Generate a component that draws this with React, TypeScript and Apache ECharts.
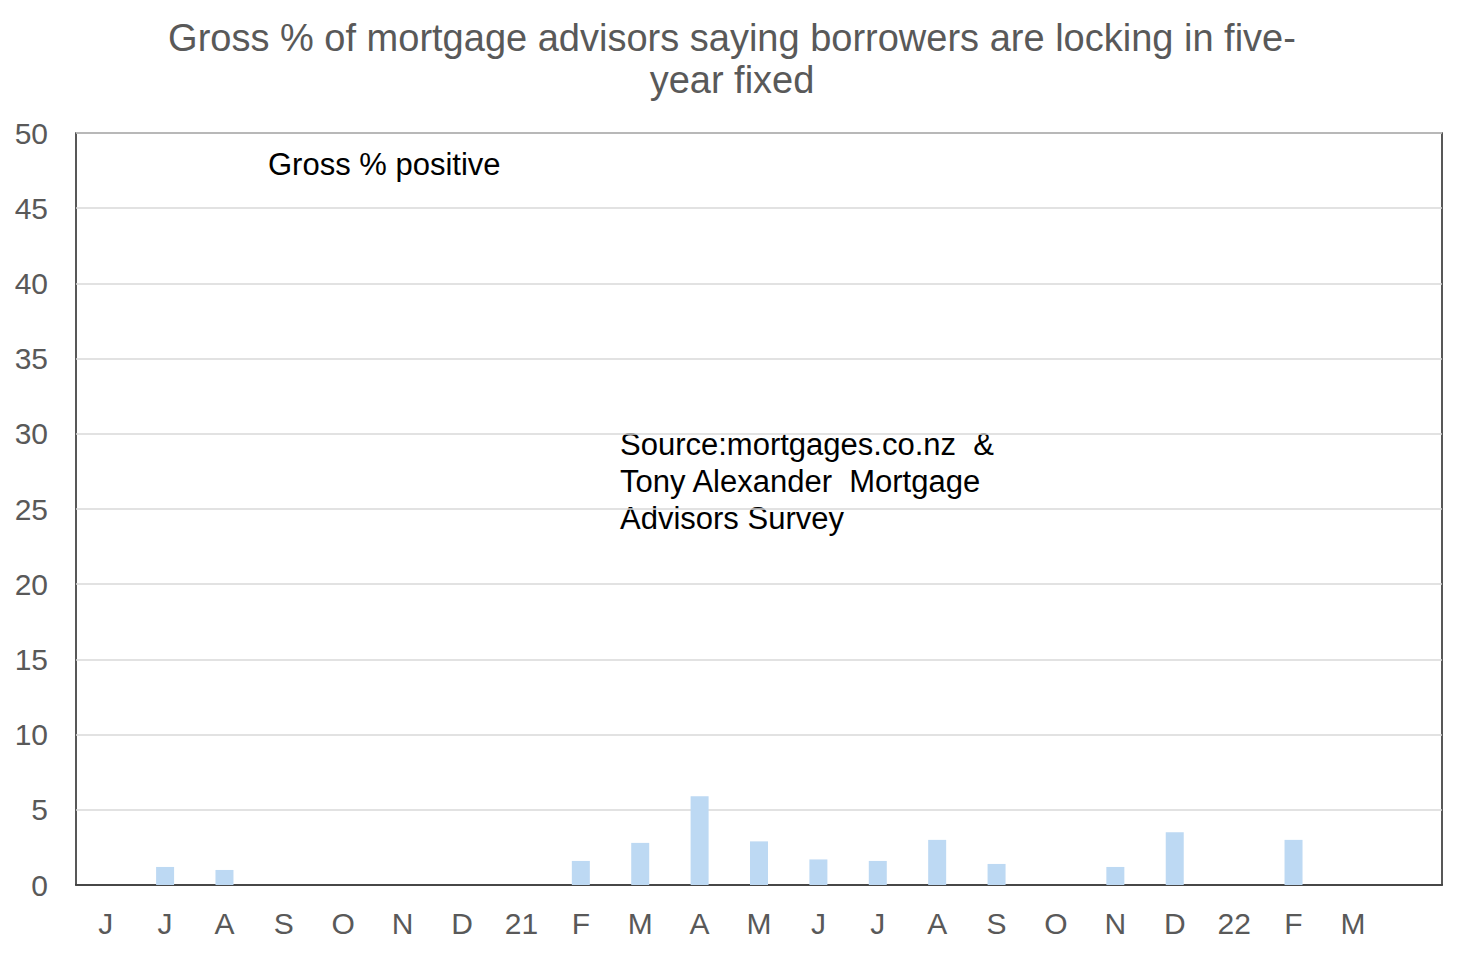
import React, { useEffect, useRef } from "react";
import * as echarts from "echarts";

const categories = ["J", "J", "A", "S", "O", "N", "D", "21", "F", "M", "A", "M", "J", "J", "A", "S", "O", "N", "D", "22", "F", "M", ""];
const grossPositive = [0, 1.2, 1.0, 0, 0, 0, 0, 0, 1.6, 2.8, 5.9, 2.9, 1.7, 1.6, 3.0, 1.4, 0, 1.2, 3.5, 0, 3.0, 0, 0];
const titleText = "Gross % of mortgage advisors saying borrowers are locking in five-\nyear fixed";
const seriesLabel = "Gross % positive";
const sourceLines = ["Source:mortgages.co.nz  &", "Tony Alexander  Mortgage", "Advisors Survey"];

const FONT = "'Liberation Sans', Arial, sans-serif";

export default function App() {
  const ref = useRef<HTMLDivElement>(null);
  useEffect(() => {
    if (!ref.current) return;
    const chart = echarts.init(ref.current, undefined, { renderer: "svg" });
    chart.setOption({
      animation: false,
      backgroundColor: "#ffffff",
      textStyle: { fontFamily: FONT },
      title: {
        text: titleText,
        left: "center",
        top: 12,
        textStyle: { fontFamily: FONT, fontSize: 38, fontWeight: "normal", color: "#595959", lineHeight: 42 },
      },
      grid: { left: 76, right: 22, top: 133, bottom: 69, show: true, borderColor: "#222", borderWidth: 1.5, backgroundColor: "transparent" },
      xAxis: {
        type: "category",
        data: categories,
        axisLine: { show: true, lineStyle: { color: "#222", width: 1.5 } },
        axisTick: { show: false },
        axisLabel: { color: "#595959", fontSize: 30, fontFamily: FONT, margin: 23, interval: 0 },
      },
      yAxis: {
        type: "value",
        min: 0,
        max: 50,
        interval: 5,
        axisLine: { show: false },
        axisTick: { show: false },
        axisLabel: { color: "#595959", fontSize: 30, fontFamily: FONT, margin: 28 },
        splitLine: { lineStyle: { color: "#d9d9d9", width: 1.5 } },
      },
      series: [
        {
          name: seriesLabel,
          type: "bar",
          data: grossPositive,
          barWidth: 18,
          itemStyle: { color: "#bdd9f3" },
        },
      ],
      graphic: [
        {
          type: "text",
          left: 268,
          top: 149,
          style: { text: seriesLabel, font: `31px ${FONT}`, fill: "#000" },
        },
        {
          type: "text",
          left: 620,
          top: 426,
          style: { text: sourceLines.join("\n"), font: `31px ${FONT}`, fill: "#000", lineHeight: 37 },
        },
      ],
    });
    return () => chart.dispose();
  }, []);
  return <div ref={ref} style={{ position: "fixed", left: 0, top: 0, width: 1464, height: 954 }} />;
}
